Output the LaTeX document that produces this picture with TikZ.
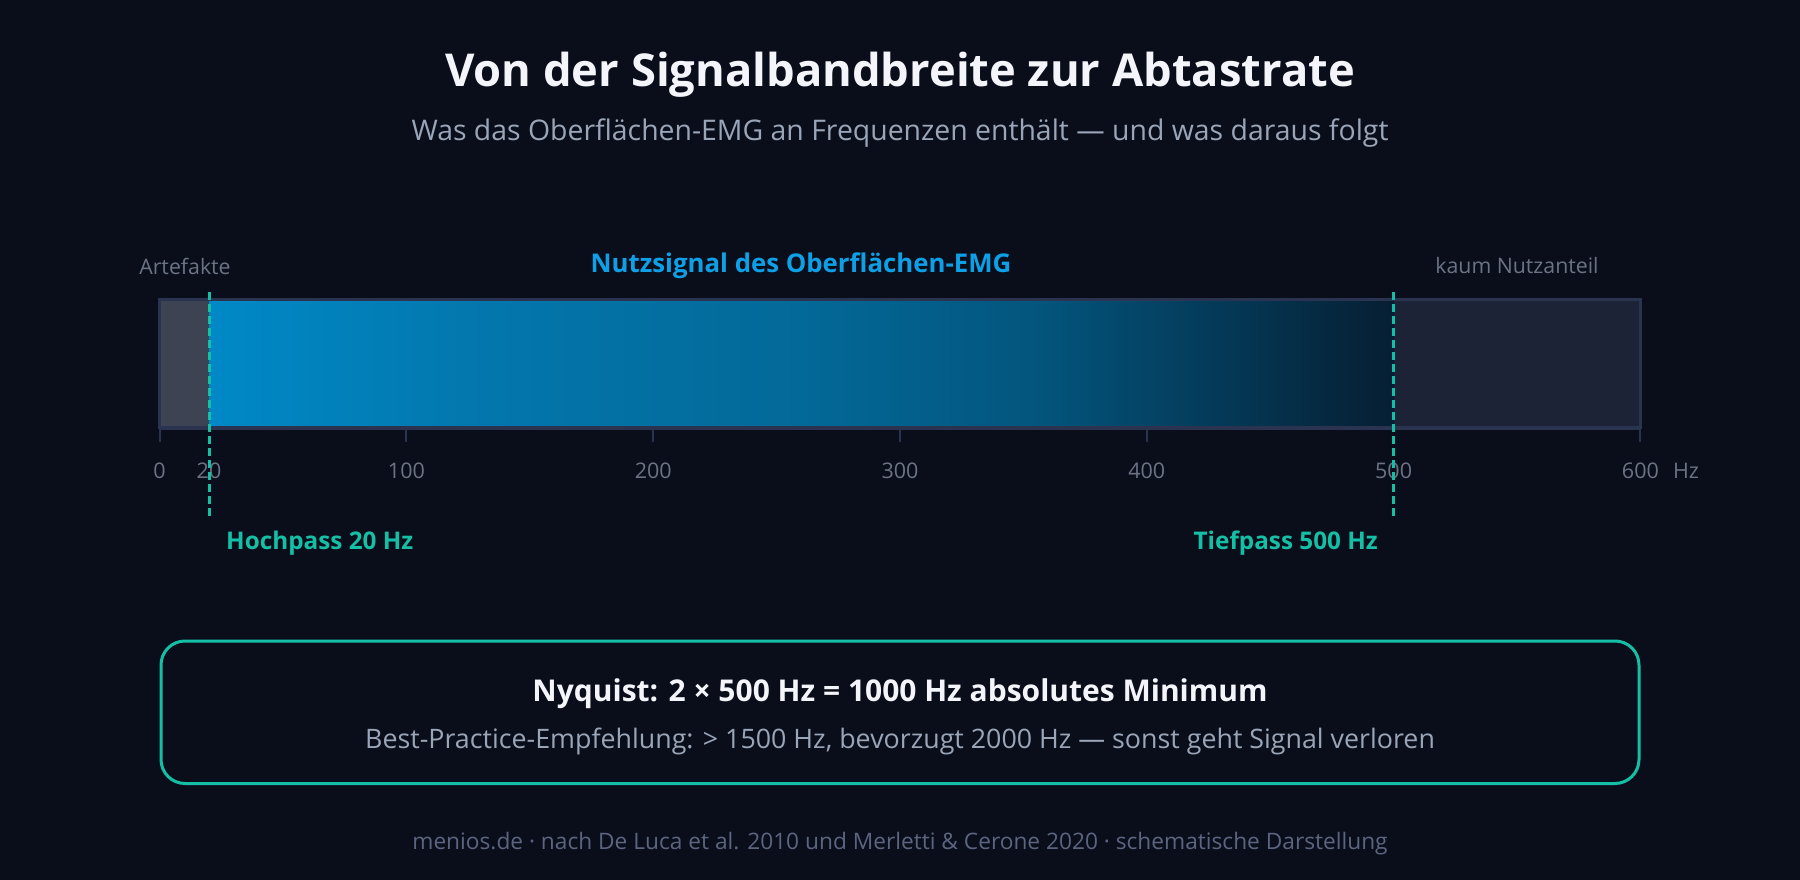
\documentclass[tikz,border=0pt]{standalone}
\usepackage{fontspec}
\setmainfont{Open Sans}
\usetikzlibrary{positioning}

\definecolor{hintergrund}{HTML}{0A0E1A}
\definecolor{titelweiss}{HTML}{F3F5FA}
\definecolor{untertitel}{HTML}{9AA5B8}
\definecolor{grauschrift}{HTML}{6B7385}
\definecolor{fussgrau}{HTML}{5C6580}
\definecolor{blauschrift}{HTML}{0EA0E6}
\definecolor{tuerkis}{HTML}{14BFA6}
\definecolor{artefaktgrau}{HTML}{3D4352}
\definecolor{restband}{HTML}{1D2336}
\definecolor{rahmen}{HTML}{2A3350}
\definecolor{nutzA}{RGB}{0,137,199}
\definecolor{nutzB}{RGB}{3,118,172}
\definecolor{nutzC}{RGB}{3,105,152}
\definecolor{nutzD}{RGB}{3,85,125}
\definecolor{nutzE}{RGB}{4,58,88}
\definecolor{nutzF}{RGB}{6,30,50}

\pgfdeclarehorizontalshading{nutzband}{100bp}{color(0bp)=(nutzA); color(25bp)=(nutzA);
  color(37bp)=(nutzB); color(50bp)=(nutzC); color(60bp)=(nutzD);
  color(67.5bp)=(nutzE); color(75bp)=(nutzF); color(100bp)=(nutzF)}

\begin{document}
\begin{tikzpicture}[x=1pt,y=-1pt,
   every node/.style={inner sep=0pt},
   achse/.style={font=\fontsize{21.5}{26}\selectfont,text=grauschrift},
   bereich/.style={font=\fontsize{21.3}{25}\selectfont,text=grauschrift},
   filter/.style={draw=tuerkis,line width=3pt,dash pattern=on 8pt off 4pt},
   filtertext/.style={font=\bfseries\fontsize{24.3}{29}\selectfont,text=tuerkis}]
   \fill[hintergrund] (0,0) rectangle (1800,880);

   % Titel
   \node[font=\bfseries\fontsize{45.3}{54}\selectfont,text=titelweiss] (titel) at (900,75) {Von der Signalbandbreite zur Abtastrate};
   \node[font=\fontsize{28.4}{34}\selectfont,text=untertitel] (untertitel) at (900,133.5) {Was das Oberflächen-EMG an Frequenzen enthält — und was daraus folgt};

   % Band 0 .. 600 Hz
   \fill[restband] (159.6,299.5) rectangle (1640.4,428);
   \fill[artefaktgrau] (159.6,299.5) rectangle (209,428);
   \shade[shading=nutzband] (209,299.5) rectangle (1393.6,428);
   \draw[rahmen,line width=2.5pt] (159.6,299.5) rectangle (1640.4,428);
   \draw[rahmen,line width=3.5pt] (159.6,428) -- (1640.4,428);
   \node[bereich] (artefakte) at (185,266) {Artefakte};
   \node[font=\bfseries\fontsize{25.8}{31}\selectfont,text=blauschrift] (nutzsignal) at (801,265.5) {Nutzsignal des Oberflächen-EMG};
   \node[bereich] (kaum) at (1517,266) {kaum Nutzanteil};

   % Achse
   \draw[rahmen,line width=2pt] (159.6,428) -- (159.6,442);
   \draw[rahmen,line width=2pt] (406.4,428) -- (406.4,442);
   \draw[rahmen,line width=2pt] (653.2,428) -- (653.2,442);
   \draw[rahmen,line width=2pt] (900,428) -- (900,442);
   \draw[rahmen,line width=2pt] (1146.8,428) -- (1146.8,442);
   \draw[rahmen,line width=2pt] (1640.4,428) -- (1640.4,442);
   \node[achse] (t0) at (159.6,471) {0};
   \node[achse] (t20) at (209,471) {20};
   \node[achse] (t100) at (406.4,471) {100};
   \node[achse] (t200) at (653.2,471) {200};
   \node[achse] (t300) at (900,471) {300};
   \node[achse] (t400) at (1146.8,471) {400};
   \node[achse] (t500) at (1393.6,471) {500};
   \node[achse] (t600) at (1640.4,471) {600};
   \node[achse] (hz) at (1686,471) {Hz};

   % Filtergrenzen
   \coordinate (hpoben) at (209,292);
   \coordinate (hpunten) at (209,517);
   \coordinate (tpoben) at (1393.6,292);
   \coordinate (tpunten) at (1393.6,517);
   \draw[filter] (hpoben) -- (hpunten);
   \draw[filter] (tpoben) -- (tpunten);
   \node[filtertext,anchor=west] (hochpass) at (226,543) {Hochpass 20 Hz};
   \node[filtertext,anchor=east] (tiefpass) at (1378,543) {Tiefpass 500 Hz};

   % Nyquist-Kasten
   \draw[tuerkis,line width=3pt,rounded corners=24pt] (161,641) rectangle (1639,783.5);
   \node[font=\bfseries\fontsize{30}{36}\selectfont,text=titelweiss] (nyquist) at (900,694) {Nyquist: 2 × 500 Hz = 1000 Hz absolutes Minimum};
   \node[font=\fontsize{26.8}{32}\selectfont,text=untertitel] (empfehlung) at (900,741.5) {Best-Practice-Empfehlung: > 1500 Hz, bevorzugt 2000 Hz — sonst geht Signal verloren};

   % Quelle
   \node[font=\fontsize{22.7}{27}\selectfont,text=fussgrau] (quelle) at (900,843.5) {menios.de · nach De Luca et al. 2010 und Merletti \& Cerone 2020 · schematische Darstellung};
\end{tikzpicture}
\end{document}
